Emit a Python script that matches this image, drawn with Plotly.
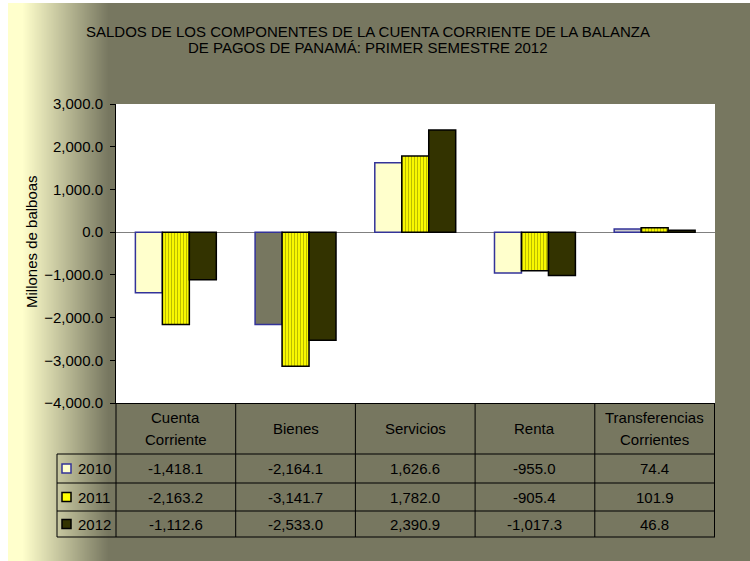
import plotly.graph_objects as go

# ---------------- data ----------------
categories = ["Cuenta Corriente", "Bienes", "Servicios", "Renta", "Transferencias Corrientes"]
header_lines = [["Cuenta", "Corriente"], ["Bienes"], ["Servicios"], ["Renta"], ["Transferencias", "Corrientes"]]
years = ["2010", "2011", "2012"]
v2010 = [-1418.1, -2164.1, 1626.6, -955.0, 74.4]
v2011 = [-2163.2, -3141.7, 1782.0, -905.4, 101.9]
v2012 = [-1112.6, -2533.0, 2390.9, -1017.3, 46.8]
y_ticks = [-4000, -3000, -2000, -1000, 0, 1000, 2000, 3000]
title_lines = ["SALDOS DE LOS COMPONENTES DE LA CUENTA CORRIENTE DE LA BALANZA",
               "DE PAGOS DE PANAMÁ: PRIMER SEMESTRE 2012"]
y_title = "Millones de balboas"

# ---------------- geometry / style ----------------
W, H = 750, 561
L, R, T, B = 116, 715, 104, 403          # plot area in pixels
FONT = "Liberation Sans, Arial, sans-serif"
FS = 15
OLIVE = "#777760"
LIGHT = "#FFFFCC"
NAVY = "#333399"
DARK = "#333300"
YELLOW = "#FFFF00"


def px(x):
    return (x - L) / (R - L)


def py(y):
    return (B - y) / (B - T)


fig = go.Figure()
fig.add_bar(x=categories, y=v2010, name=years[0],
            marker=dict(color=[LIGHT, OLIVE, LIGHT, LIGHT, "#C8C8C8"],
                        line=dict(color=NAVY, width=1.5)))
fig.add_bar(x=categories, y=v2011, name=years[1],
            marker=dict(color=YELLOW,
                        pattern=dict(shape="|", fgcolor="#7A7A00", bgcolor=YELLOW,
                                     size=3, solidity=0.4),
                        line=dict(color="black", width=1.5)))
fig.add_bar(x=categories, y=v2012, name=years[2],
            marker=dict(color=DARK, line=dict(color="black", width=1.5)))

shapes = []
# white border strips (left 8px, top 3px)
shapes.append(dict(type="rect", xref="paper", yref="paper", x0=px(0), x1=px(8),
                   y0=py(0), y1=py(H), fillcolor="white", line_width=0, layer="below"))
shapes.append(dict(type="rect", xref="paper", yref="paper", x0=px(0), x1=px(W),
                   y0=py(0), y1=py(3), fillcolor="white", line_width=0, layer="below"))
# left gradient
c0 = (255, 255, 204)
c1 = (119, 119, 96)
g0, g1 = 22, 108
for xp in range(8, g1):
    t = min(max((xp - g0) / (g1 - g0), 0), 1)
    col = tuple(round(a + (b - a) * t) for a, b in zip(c0, c1))
    shapes.append(dict(type="rect", xref="paper", yref="paper", x0=px(xp), x1=px(xp + 1),
                       y0=py(3), y1=py(H), fillcolor="rgb(%d,%d,%d)" % col,
                       line_width=0, layer="below"))

# data table grid
row_y = [454, 483, 511, 537]
line = dict(color="black", width=1)
for yy in row_y:
    shapes.append(dict(type="line", xref="paper", yref="paper", x0=px(57), x1=px(R),
                       y0=py(yy), y1=py(yy), line=line))
shapes.append(dict(type="line", xref="paper", yref="paper", x0=px(57), x1=px(57),
                   y0=py(454), y1=py(537), line=line))
shapes.append(dict(type="line", xref="paper", yref="paper", x0=px(L), x1=px(L),
                   y0=py(B), y1=py(537), line=line))
for i in range(len(categories)):
    shapes.append(dict(type="line", xref="x", yref="paper", x0=i + 0.5, x1=i + 0.5,
                       y0=py(B), y1=py(537), line=line))

# legend keys
row_c = [(row_y[i] + row_y[i + 1]) / 2 for i in range(3)]
key_fill = [LIGHT, YELLOW, DARK]
key_line = [NAVY, "black", "black"]
for i in range(3):
    shapes.append(dict(type="rect", xref="paper", yref="paper", x0=px(62), x1=px(71),
                       y0=py(row_c[i] - 4.5), y1=py(row_c[i] + 4.5),
                       fillcolor=key_fill[i], line=dict(color=key_line[i], width=1.5)))

ann = []
tf = dict(family=FONT, size=FS, color="black")
for i, t in enumerate(title_lines):
    ann.append(dict(text=t, xref="paper", yref="paper", x=px(368), y=py(32 + 16 * i),
                    xanchor="center", yanchor="middle", showarrow=False, font=tf))
ann.append(dict(text=y_title, xref="paper", yref="paper", x=px(31), y=py(242),
                textangle=-90, xanchor="center", yanchor="middle", showarrow=False, font=tf))
# header
for c, lines in zip(categories, header_lines):
    n = len(lines)
    for j, s in enumerate(lines):
        yc = 428.5 + (j - (n - 1) / 2) * 22
        ann.append(dict(text=s, xref="x", yref="paper", x=c, y=py(yc),
                        xanchor="center", yanchor="middle", showarrow=False, font=tf))
# rows
for i, (yr, vals) in enumerate(zip(years, [v2010, v2011, v2012])):
    ann.append(dict(text=yr, xref="paper", yref="paper", x=px(76), y=py(row_c[i]),
                    xanchor="left", yanchor="middle", showarrow=False, font=tf))
    for c, v in zip(categories, vals):
        ann.append(dict(text=f"{v:,.1f}", xref="x", yref="paper", x=c, y=py(row_c[i]),
                        xanchor="center", yanchor="middle", showarrow=False, font=tf))

fig.update_layout(
    width=W, height=H,
    margin=dict(l=L, r=W - R, t=T, b=H - B, pad=0),
    paper_bgcolor=OLIVE, plot_bgcolor="white",
    barmode="group", bargap=0.324, bargroupgap=0,
    showlegend=False, hovermode=False,
    shapes=shapes, annotations=ann,
    font=dict(family=FONT, size=FS, color="black"),
)
fig.update_yaxes(range=[-4000, 3000], tickvals=y_ticks, tickformat=",.1f",
                 ticks="outside", ticklen=5, tickcolor="black", tickwidth=1,
                 showline=True, linecolor="black", linewidth=1,
                 zeroline=True, zerolinecolor="#808080", zerolinewidth=1,
                 showgrid=False, tickfont=tf, ticklabelstandoff=4)
fig.update_xaxes(showticklabels=False, ticks="", showline=True, linecolor="black",
                 linewidth=1, showgrid=False)

fig.write_html("out.html",
               config={"displayModeBar": False},
               post_script="document.body.style.margin='0';"
                           "document.body.style.overflow='hidden';")
